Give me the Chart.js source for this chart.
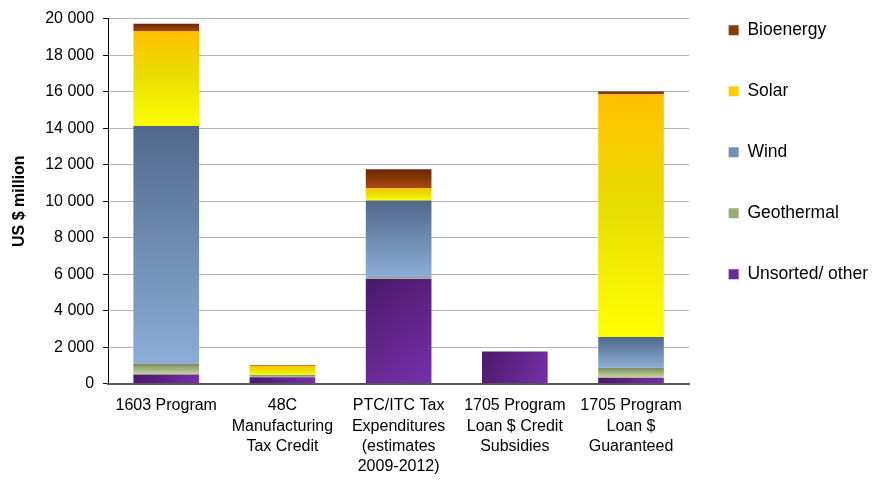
<!DOCTYPE html>
<html>
<head>
<meta charset="utf-8">
<script src="https://cdn.jsdelivr.net/npm/chart.js@4.4.0/dist/chart.umd.min.js"></script>
<style>
  html, body { margin: 0; padding: 0; background: #fff; }
  #wrap { width: 882px; height: 482px; }
</style>
</head>
<body>
<div id="wrap"><canvas id="fundingChart"></canvas></div>
<script>
// ===================
// Data
// ===================

const programs = [
	['1603 Program'],
	['48C', 'Manufacturing', 'Tax Credit'],
	['PTC/ITC Tax', 'Expenditures', '(estimates', '2009-2012)'],
	['1705 Program', 'Loan $ Credit', 'Subsidies'],
	['1705 Program', 'Loan $', 'Guaranteed']
];

// US $ million, stacked bottom to top
const unsorted   = [500, 350, 5750, 1760, 330];
const geothermal = [600, 50, 80, 0, 550];
const wind       = [13020, 60, 4200, 0, 1680];
const solar      = [5170, 520, 680, 0, 13280];
const bioenergy  = [430, 40, 1040, 0, 160];

const yTicks = [0, 2000, 4000, 6000, 8000, 10000, 12000, 14000, 16000, 18000, 20000];

const series = [unsorted, geothermal, wind, solar, bioenergy];
const FONT = "'Liberation Sans', Arial, sans-serif";

// gradient stops per series (top -> bottom)
const stops = [
	['#4a1868', '#7631aa'],
	['#78885a', '#c9d9a2'],
	['#51698a', '#8cadd8'],
	['#ffc000', '#e8e000', '#ffff00'],
	['#6a2800', '#a84a0c']
];
const legendColors = ['#6a2a9a', '#9aac78', '#7490b8', '#f8d000', '#8a3a06'];

function fmt(v) {
	return String(v).replace(/\B(?=(\d{3})+(?!\d))/g, ' ');
}

function fillFor(d) {
	return function (c) {
		if (c.dataIndex === undefined) return legendColors[d];
		const chart = c.chart;
		const y = chart.scales.y, x = chart.scales.x;
		if (!y || !x) return legendColors[d];
		const i = c.dataIndex;
		let base = 0;
		for (let k = 0; k < d; k++) base += series[k][i];
		const top = y.getPixelForValue(base + series[d][i]);
		const bottom = y.getPixelForValue(base);
		if (!isFinite(top) || !isFinite(bottom) || top === bottom) return legendColors[d];
		const ctx = chart.ctx;
		let g;
		const cx = x.getPixelForValue(i);
		if (d === 0 && isFinite(cx)) {
			g = ctx.createLinearGradient(cx - 33, top, cx + 33, bottom);
		} else {
			g = ctx.createLinearGradient(0, top, 0, bottom);
		}
		const s = stops[d];
		s.forEach(function (col, n) { g.addColorStop(n / (s.length - 1), col); });
		return g;
	};
}

// shift the right legend upward (Chart.js pads it from the top by labels.padding)
const legendShift = {
	id: 'legendShift',
	afterLayout: function (chart) {
		chart.legend.top -= 32;
		chart.legend.bottom -= 32;
		chart.legend.left -= 4;
		chart.legend.right -= 4;
	}
};

// ===================
// Chart
// ===================

const ctx = document.getElementById('fundingChart').getContext('2d');
const chart = new Chart(ctx, {
	type: 'bar',
	data: {
		labels: programs,
		datasets: [
			{ label: 'Unsorted/ other', data: unsorted, backgroundColor: fillFor(0) },
			{ label: 'Geothermal', data: geothermal, backgroundColor: fillFor(1) },
			{ label: 'Wind', data: wind, backgroundColor: fillFor(2) },
			{ label: 'Solar', data: solar, backgroundColor: fillFor(3) },
			{ label: 'Bioenergy', data: bioenergy, backgroundColor: fillFor(4) }
		]
	},
	plugins: [legendShift],
	options: {
		responsive: true,
		maintainAspectRatio: false,
		animation: false,
		datasets: { bar: { barPercentage: 0.565, categoryPercentage: 1, borderWidth: 0 } },
		layout: { padding: { top: 10, right: 0, bottom: -7, left: 0 } },
		plugins: {
			tooltip: { enabled: false },
			legend: {
				position: 'right',
				align: 'start',
				reverse: true,
				labels: {
					boxWidth: 10,
					boxHeight: 10,
					padding: 43.5,
					color: '#000',
					font: { family: FONT, size: 17.5 },
					generateLabels: function (ch) {
						const items = Chart.defaults.plugins.legend.labels.generateLabels(ch);
						items.forEach(function (it) {
							it.fillStyle = legendColors[it.datasetIndex];
							it.strokeStyle = legendColors[it.datasetIndex];
							it.lineWidth = 0;
						});
						return items;
					}
				}
			}
		},
		scales: {
			x: {
				stacked: true,
				grid: { display: false, drawTicks: false },
				border: { display: true, color: '#595959', width: 2 },
				ticks: {
					color: '#000',
					padding: 12,
					maxRotation: 0,
					autoSkip: false,
					font: { family: FONT, size: 16, lineHeight: 1.27 }
				}
			},
			y: {
				stacked: true,
				min: 0,
				max: 20000,
				afterBuildTicks: function (axis) {
					axis.ticks = yTicks.map(function (v) { return { value: v }; });
				},
				grid: { color: '#b4b4b4', lineWidth: 1, tickLength: 5, tickColor: '#000' },
				border: { display: true, color: '#000', width: 1 },
				ticks: {
					color: '#000',
					padding: 9,
					font: { family: FONT, size: 16 },
					callback: function (v) { return fmt(v); }
				},
				title: {
					display: true,
					text: 'US $ million',
					color: '#000',
					font: { family: FONT, size: 16, weight: 'bold' },
					padding: { top: 10, bottom: 7 }
				}
			}
		}
	}
});
</script>
</body>
</html>
